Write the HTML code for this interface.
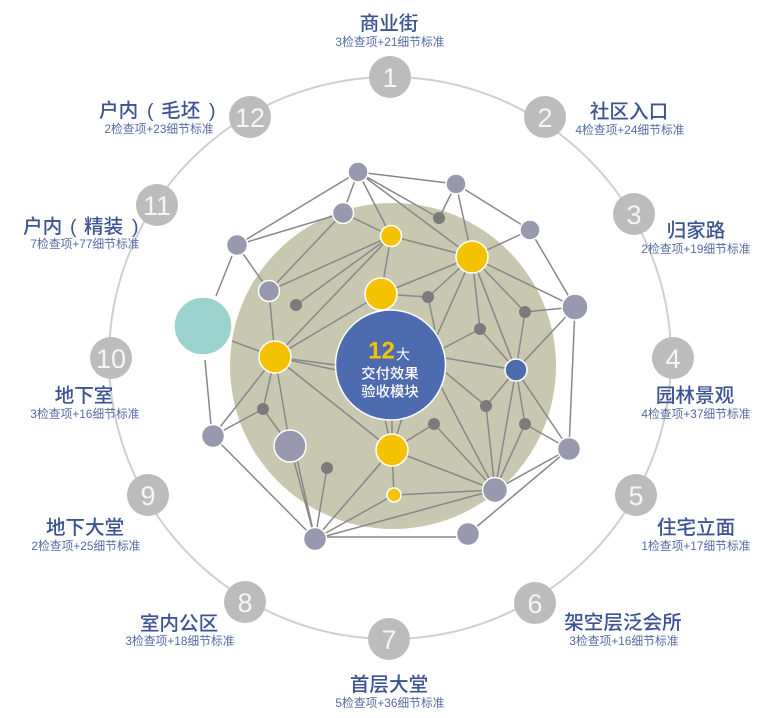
<!DOCTYPE html>
<html lang="zh"><head><meta charset="utf-8"><style>
html,body{margin:0;padding:0;background:#fff}
svg{display:block;filter:blur(.35px)}
text{font-family:"Liberation Sans","Noto Sans CJK SC",sans-serif;text-anchor:middle}
.t{font-size:19.6px;fill:#3d5394;font-weight:500}
.s{font-size:11.8px;fill:#566ba5}
.n{font-size:27px;fill:#fff;fill-opacity:.85;font-family:"Liberation Sans",sans-serif}
.w{font-size:14.4px;fill:#fff;font-weight:500}
</style></head><body>
<svg width="779" height="718" viewBox="0 0 779 718" xmlns="http://www.w3.org/2000/svg">
<circle cx="390" cy="358" r="281" fill="none" stroke="#cfcfcf" stroke-width="2"/>
<circle cx="393" cy="366" r="163" fill="#c8c8b0"/>
<g stroke="#888" stroke-width="1.5" fill="none">
<path d="M237 245L358 172M237 245L343 213M237 245L269 291M358 172L343 213M358 172L391 236M343 213L391 236M343 213L269 291M269 291L391 236M269 291L275 357M296 305L391 236M275 357L391 236M275 357L381 294M381 294L391 236"/>
<path d="M232 341L275 357M216 296L232 256M205 360L211 425"/>
<path d="M358 172L456 184M358 172L472 257M358 172L439 218M456 184L439 218M456 184L472 257M456 184L530 230M530 230L472 257M530 230L575 307"/>
<path d="M472 257L391 236M472 257L381 294M472 257L428 297M472 257L435 340M472 257L480 329M472 257L525 312M472 257L575 307M472 257L516 370"/>
<path d="M381 294L428 297M428 297L435 330M480 329L440 350M480 329L516 370M525 312L575 307M525 312L516 370M575 307L516 370M575 307L569 449"/>
<path d="M516 370L445 358M516 370L486 406M516 370L495 490M516 370L525 424M516 370L569 449M445 372L486 406M486 406L495 490M440 385L495 490M525 424L495 490M525 424L569 449"/>
<path d="M569 449L495 490M569 449L468 534M468 537L315 537M495 490L392 450M495 490L434 424M434 424L392 450M495 490L394 495M495 490L315 539M394 495L392 450M394 495L315 539"/>
<path d="M392 450L275 357M392 450L315 539M392 450L384 415M392 450L392 420M392 450L402 418"/>
<path d="M275 357L336 365M275 357L336 370M275 357L213 436M275 357L263 409M275 357L290 446M263 409L213 436M263 409L290 446M213 436L315 539M290 446L315 539M294 446L315 539M327 468L315 539"/>
</g>
<g stroke="#fff" stroke-width="1.5">
<circle cx="203" cy="326" r="29" fill="#9cd2ce"/>
<g fill="#9898ae">
<circle cx="358" cy="172" r="10"/><circle cx="456" cy="184" r="10"/><circle cx="343" cy="213" r="10.5"/>
<circle cx="530" cy="230" r="10"/><circle cx="237" cy="245" r="10.5"/><circle cx="269" cy="291" r="10.5"/>
<circle cx="575" cy="307" r="13"/><circle cx="569" cy="449" r="11.5"/><circle cx="495" cy="490" r="12.5"/>
<circle cx="468" cy="534" r="11.5"/><circle cx="315" cy="539" r="11.5"/><circle cx="213" cy="436" r="11.5"/>
<circle cx="290" cy="446" r="16"/></g>
<g fill="#f5c200">
<circle cx="391" cy="236" r="10.5"/><circle cx="472" cy="257" r="16"/><circle cx="381" cy="294" r="16"/>
<circle cx="275" cy="357" r="16"/><circle cx="392" cy="450" r="16"/><circle cx="394" cy="495" r="7"/></g>
<circle cx="516" cy="370" r="11" fill="#4f6bb0"/>
<circle cx="390.5" cy="365" r="55" fill="#4f6bb0"/>
</g>
<g fill="#7b7b7b">
<circle cx="296" cy="305" r="6"/><circle cx="439" cy="218" r="6"/><circle cx="428" cy="297" r="6"/>
<circle cx="480" cy="329" r="6"/><circle cx="525" cy="312" r="6"/><circle cx="486" cy="406" r="6"/>
<circle cx="525" cy="424" r="6"/><circle cx="434" cy="424" r="6"/><circle cx="263" cy="409" r="6"/>
<circle cx="327" cy="468" r="6"/></g>
<text x="381.5" y="358.5" font-size="24" font-weight="700" fill="#f5c200">12</text>
<text x="403" y="359.5" font-size="14" fill="#fff">大</text>
<text class="w" x="390" y="378.5">交付效果</text>
<text class="w" x="390" y="396.5">验收模块</text>
<g fill="#bcbcbc">
<circle cx="390" cy="77" r="21"/><circle cx="545" cy="117" r="21"/><circle cx="634" cy="214" r="21"/>
<circle cx="673" cy="358" r="21"/><circle cx="636" cy="495" r="21"/><circle cx="535" cy="603" r="21"/>
<circle cx="389" cy="639" r="21"/><circle cx="245" cy="602" r="21"/><circle cx="148" cy="495" r="21"/>
<circle cx="111" cy="358" r="21"/><circle cx="157" cy="205" r="21"/><circle cx="250" cy="117" r="21"/></g>
<g>
<text class="n" x="390" y="87">1</text><text class="n" x="545" y="127">2</text><text class="n" x="634" y="224">3</text>
<text class="n" x="673" y="368">4</text><text class="n" x="636" y="505">5</text><text class="n" x="535" y="613">6</text>
<text class="n" x="389" y="649">7</text><text class="n" x="245" y="612">8</text><text class="n" x="148" y="505">9</text>
<text class="n" x="111" y="368">10</text><text class="n" x="157" y="215">11</text><text class="n" x="250" y="127">12</text></g>
<g transform="translate(0,1)">
<text class="t" x="389" y="29">商业街</text><text class="s" x="390" y="45">3检查项+21细节标准</text>
<text class="t" x="629" y="117">社区入口</text><text class="s" x="630" y="133">4检查项+24细节标准</text>
<text class="t" x="696" y="236">归家路</text><text class="s" x="696" y="252">2检查项+19细节标准</text>
<text class="t" x="695" y="401">园林景观</text><text class="s" x="696" y="417">4检查项+37细节标准</text>
<text class="t" x="696" y="533">住宅立面</text><text class="s" x="696" y="549">1检查项+17细节标准</text>
<text class="t" x="623" y="628">架空层泛会所</text><text class="s" x="624" y="644">3检查项+16细节标准</text>
<text class="t" x="389" y="690">首层大堂</text><text class="s" x="390" y="706">5检查项+36细节标准</text>
<text class="t" x="179" y="629">室内公区</text><text class="s" x="180" y="644">3检查项+18细节标准</text>
<text class="t" x="85" y="533">地下大堂</text><text class="s" x="86" y="549">2检查项+25细节标准</text>
<text class="t" x="84" y="401">地下室</text><text class="s" x="85" y="417">3检查项+16细节标准</text>
<text class="t" style="text-anchor:start" y="232"><tspan x="23">户内</tspan><tspan x="70">(</tspan><tspan x="84">精装</tspan><tspan x="132">)</tspan></text><text class="s" x="85" y="247">7检查项+77细节标准</text>
<text class="t" style="text-anchor:start" y="116"><tspan x="99">户内</tspan><tspan x="147">(</tspan><tspan x="161">毛坯</tspan><tspan x="209">)</tspan></text><text class="s" x="159" y="132">2检查项+23细节标准</text>
</g>
</svg>
</body></html>
